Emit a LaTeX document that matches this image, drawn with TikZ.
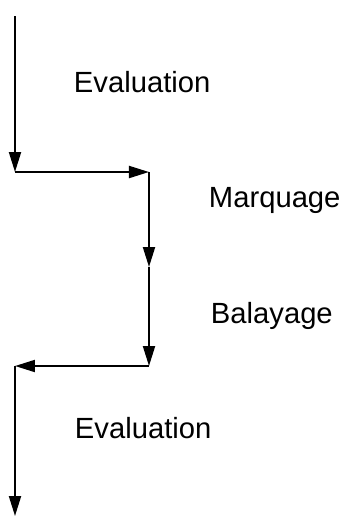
\documentclass[tikz,border=0pt]{standalone}
\usepackage{fontspec}
\setmainfont{Liberation Sans}
\usetikzlibrary{arrows.meta}

\begin{document}
\begin{tikzpicture}[x=0.5pt, y=-0.5pt, >={Triangle[length=10pt, width=6pt]}, line width=1pt,
  phase/.style={anchor=base west, inner sep=0pt, font=\fontsize{14.6}{17}\selectfont}]
  \useasboundingbox (0,0) rectangle (341,516);
  % corners of the cycle
  \coordinate (start) at (15,16);
  \coordinate (L1) at (15,172);
  \coordinate (R1) at (149,172);
  \coordinate (Rm) at (149,267);
  \coordinate (R2) at (149,366);
  \coordinate (L2) at (15,366);
  \coordinate (stop) at (15,516);
  \draw[->] (start) -- (L1);
  \draw[->] (L1) -- (R1);
  \draw[->] (R1) -- (Rm);
  \draw[->] (Rm) -- (R2);
  \draw[->] (R2) -- (L2);
  \draw[->] (L2) -- (stop);
  % phase labels
  \node[phase] (eval1) at (73,92) {Evaluation};
  \node[phase] (mark) at (208,207) {Marquage};
  \node[phase] (sweep) at (210,323) {Balayage};
  \node[phase] (eval2) at (74,438) {Evaluation};
\end{tikzpicture}
\end{document}
